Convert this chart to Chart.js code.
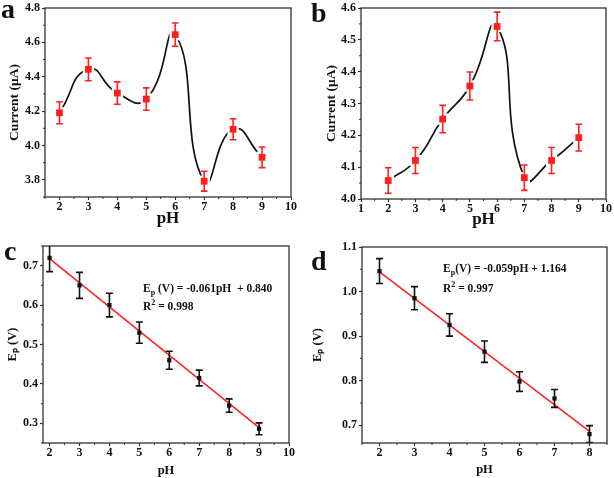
<!DOCTYPE html>
<html>
<head>
<meta charset="utf-8">
<script src="https://cdn.jsdelivr.net/npm/chart.js@4.4.1/dist/chart.umd.min.js"></script>
<style>
  body { margin: 0; background: #fff; width: 614px; height: 478px; position: relative; overflow: hidden; font-family: 'Liberation Serif', 'Times New Roman', serif; }
  canvas { position: absolute; }
  .tag { position: absolute; font-weight: bold; font-size: 28px; line-height: 1; color: #111; }
  .note { position: absolute; font-weight: bold; font-size: 11.5px; line-height: 1; white-space: nowrap; color: #111; }
  .note sub, .note sup { font-size: 8px; line-height: 0; }
</style>
</head>
<body>
<canvas id="chartA" width="305" height="235" style="left:0;top:0"></canvas>
<canvas id="chartB" width="309" height="235" style="left:305px;top:0"></canvas>
<canvas id="chartC" width="305" height="243" style="left:0;top:235px"></canvas>
<canvas id="chartD" width="309" height="243" style="left:305px;top:235px"></canvas>

<div class="tag" style="left:1px;top:-5px">a</div>
<div class="tag" style="left:311px;top:-1px">b</div>
<div class="tag" style="left:4px;top:237px">c</div>
<div class="tag" style="left:311px;top:247px">d</div>

<div class="note" style="left:143px;top:283px">E<sub>p</sub> (V) = -0.061pH &nbsp;+ 0.840</div>
<div class="note" style="left:143px;top:301px">R<sup>2</sup> = 0.998</div>
<div class="note" style="left:443px;top:263px">E<sub>p</sub>(V) = -0.059pH + 1.164</div>
<div class="note" style="left:443px;top:283px">R<sup>2</sup> = 0.997</div>

<script>
// panel a: current vs pH
const phA = [2, 3, 4, 5, 6, 7, 8, 9];
const currentA = [4.19, 4.443, 4.305, 4.27, 4.645, 3.792, 4.094, 3.931];
const errA = [0.064, 0.066, 0.065, 0.065, 0.068, 0.058, 0.061, 0.06];
const xTicksA = [2, 3, 4, 5, 6, 7, 8, 9, 10];
const yTicksA = [3.8, 4.0, 4.2, 4.4, 4.6, 4.8];

// panel b: current vs pH
const phB = [2, 3, 4, 5, 6, 7, 8, 9];
const currentB = [4.058, 4.121, 4.251, 4.355, 4.542, 4.067, 4.121, 4.193];
const errB = [0.04, 0.041, 0.043, 0.044, 0.045, 0.04, 0.041, 0.042];
const xTicksB = [1, 2, 3, 4, 5, 6, 7, 8, 9, 10];
const yTicksB = [4.0, 4.1, 4.2, 4.3, 4.4, 4.5, 4.6];

// panel c: peak potential vs pH
const phC = [2, 3, 4, 5, 6, 7, 8, 9];
const epC = [0.72, 0.65, 0.60, 0.53, 0.46, 0.415, 0.345, 0.286];
const errC = [0.035, 0.033, 0.03, 0.027, 0.023, 0.02, 0.017, 0.015];
const fitXC = [2, 9];
const fitYC = [0.718, 0.289];
const xTicksC = [2, 3, 4, 5, 6, 7, 8, 9, 10];
const yTicksC = [0.3, 0.4, 0.5, 0.6, 0.7];

// panel d: peak potential vs pH
const phD = [2, 3, 4, 5, 6, 7, 8];
const epD = [1.046, 0.985, 0.925, 0.865, 0.798, 0.76, 0.68];
const errD = [0.028, 0.026, 0.025, 0.024, 0.022, 0.02, 0.019];
const fitXD = [2, 8];
const fitYD = [1.044, 0.686];
const xTicksD = [2, 3, 4, 5, 6, 7, 8];
const yTicksD = [0.7, 0.8, 0.9, 1.0, 1.1];

const FONT = 'Liberation Serif';
const INK = '#111';
const RED = '#ff1f1f';

const pts = (xs, ys) => xs.map((x, i) => ({x: x, y: ys[i]}));

// vertical error bars with caps, read from dataset.errors
const errorBars = {
  id: 'errorBars',
  afterDatasetsDraw(chart) {
    const {ctx, chartArea} = chart;
    const ys = chart.scales.y;
    chart.data.datasets.forEach((ds, i) => {
      if (!ds.errors) return;
      const meta = chart.getDatasetMeta(i);
      ctx.save();
      ctx.beginPath();
      ctx.rect(chartArea.left, chartArea.top, chartArea.right - chartArea.left, chartArea.bottom - chartArea.top);
      ctx.clip();
      ctx.strokeStyle = ds.errorColor;
      ctx.lineWidth = 1.6;
      meta.data.forEach((pt, j) => {
        const v = ds.data[j].y, e = ds.errors[j];
        const top = ys.getPixelForValue(v + e), bot = ys.getPixelForValue(v - e);
        const c = ds.capHalf;
        ctx.beginPath();
        ctx.moveTo(pt.x, top); ctx.lineTo(pt.x, bot);
        ctx.moveTo(pt.x - c, top); ctx.lineTo(pt.x + c, top);
        ctx.moveTo(pt.x - c, bot); ctx.lineTo(pt.x + c, bot);
        ctx.stroke();
      });
      ctx.restore();
    });
  }
};

// box around the plot plus short minor ticks
const frame = {
  id: 'frame',
  afterDraw(chart) {
    const {ctx, chartArea: a, scales} = chart;
    ctx.save();
    ctx.strokeStyle = '#333';
    ctx.lineWidth = 1.3;
    ctx.strokeRect(a.left, a.top, a.right - a.left, a.bottom - a.top);
    ctx.lineWidth = 1;
    ['x', 'y'].forEach(id => {
      const s = scales[id];
      const t = s.ticks.map(k => k.value);
      const half = (t[1] - t[0]) / 2;
      ctx.beginPath();
      for (let v = t[0] - half; v <= s.max + 1e-9; v += 2 * half) {
        if (v < s.min - 1e-9) continue;
        const p = s.getPixelForValue(v);
        if (id === 'x') { ctx.moveTo(p, a.bottom); ctx.lineTo(p, a.bottom + 2); }
        else { ctx.moveTo(a.left, p); ctx.lineTo(a.left - 2, p); }
      }
      ctx.stroke();
    });
    ctx.restore();
  }
};

Chart.register(errorBars, frame);

function axis(o) {
  const horiz = o.horiz;
  return {
    type: 'linear',
    min: o.min,
    max: o.max,
    afterBuildTicks: s => { s.ticks = o.ticks.map(v => ({value: v})); },
    afterFit: s => {
      if (horiz) s.height = o.size; else s.width = o.size;
      s.paddingTop = s.paddingBottom = s.paddingLeft = s.paddingRight = 0;
    },
    border: {display: false},
    grid: {drawOnChartArea: false, tickLength: 3, tickWidth: 1.2, tickColor: '#333'},
    ticks: {
      autoSkip: false, maxRotation: 0, padding: horiz ? 0 : 2, color: INK,
      font: {family: FONT, size: 12, weight: 'bold'},
      callback: v => v.toFixed(o.digits)
    },
    title: {
      display: true, text: o.title, color: INK,
      font: {family: FONT, size: o.titleSize, weight: 'bold', lineHeight: 1.2},
      padding: horiz ? {top: 0, bottom: o.titlePad} : {top: o.titlePad, bottom: 0}
    }
  };
}

function baseOptions(pad, x, y) {
  return {
    responsive: false,
    animation: false,
    layout: {padding: pad},
    plugins: {legend: {display: false}, tooltip: {enabled: false}},
    scales: {x: axis(Object.assign({horiz: true}, x)), y: axis(y)}
  };
}

function curvePanel(id, xs, ys, errs, tension, pad, x, y) {
  const data = pts(xs, ys);
  new Chart(document.getElementById(id), {
    type: 'line',
    data: {
      datasets: [
        {data: data, order: 3, borderColor: INK, borderWidth: 1.7, tension: tension,
         cubicInterpolationMode: 'default', pointRadius: 0, fill: false},
        {data: data, order: 2, showLine: false, pointStyle: 'rect', pointRadius: 8,
         pointBackgroundColor: '#fff', pointBorderWidth: 0},
        {data: data, order: 1, showLine: false, pointStyle: 'rect', pointRadius: 4.8,
         pointBackgroundColor: RED, pointBorderWidth: 0,
         errors: errs, errorColor: RED, capHalf: 3.3}
      ]
    },
    options: baseOptions(pad, x, y)
  });
}

function fitPanel(id, xs, ys, errs, fx, fy, pad, x, y) {
  new Chart(document.getElementById(id), {
    type: 'line',
    data: {
      datasets: [
        {data: pts(fx, fy), order: 2, borderColor: RED, borderWidth: 1.5, pointRadius: 0, tension: 0},
        {data: pts(xs, ys), order: 1, showLine: false, pointStyle: 'rect', pointRadius: 3,
         pointBackgroundColor: INK, pointBorderWidth: 0,
         errors: errs, errorColor: INK, capHalf: 3.5}
      ]
    },
    options: baseOptions(pad, x, y)
  });
}

curvePanel('chartA', phA, currentA, errA, 0.55, {top: 5, right: 14, left: 0, bottom: 0},
  {min: 1.5, max: 10, ticks: xTicksA, digits: 0, size: 38, title: 'pH', titleSize: 17, titlePad: 6},
  {min: 3.7, max: 4.8, ticks: yTicksA, digits: 1, size: 45, title: 'Current (\u03bcA)', titleSize: 13.5, titlePad: 6});

curvePanel('chartB', phB, currentB, errB, 0.55, {top: 6, right: 7, left: 0, bottom: 0},
  {min: 1, max: 10, ticks: xTicksB, digits: 0, size: 36, title: 'pH', titleSize: 17, titlePad: 5},
  {min: 4.0, max: 4.6, ticks: yTicksB, digits: 1, size: 56, title: 'Current (\u03bcA)', titleSize: 13.5, titlePad: 18});

fitPanel('chartC', phC, epC, errC, fitXC, fitYC, {top: 11, right: 16, left: 0, bottom: 0},
  {min: 1.78, max: 10, ticks: xTicksC, digits: 0, size: 35, title: 'pH', titleSize: 12.5, titlePad: 0},
  {min: 0.25, max: 0.75, ticks: yTicksC, digits: 1, size: 43, title: 'E\u209a (V)', titleSize: 12.5, titlePad: 5});

fitPanel('chartD', phD, epD, errD, fitXD, fitYD, {top: 12, right: 7, left: 0, bottom: 0},
  {min: 1.5, max: 8.5, ticks: xTicksD, digits: 0, size: 35, title: 'pH', titleSize: 12.5, titlePad: 1},
  {min: 0.66, max: 1.1, ticks: yTicksD, digits: 1, size: 57, title: 'E\u209a (V)', titleSize: 12.5, titlePad: 5});
</script>
</body>
</html>
